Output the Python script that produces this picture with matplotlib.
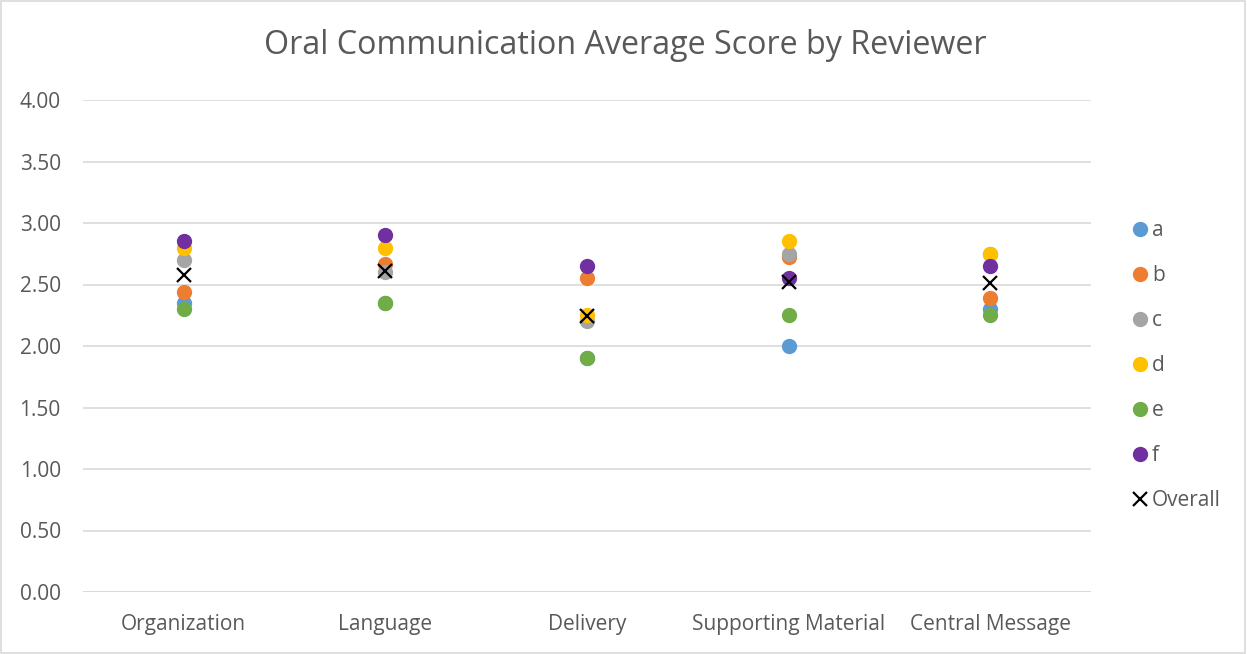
import matplotlib.pyplot as plt
from matplotlib.lines import Line2D
import numpy as np

plt.rcParams['font.family'] = ['Open Sans', 'DejaVu Sans']

categories = ['Organization', 'Language', 'Delivery', 'Supporting Material', 'Central Message']
a = [2.35, 2.35, 1.90, 2.00, 2.30]
b = [2.44, 2.67, 2.55, 2.72, 2.39]
c = [2.70, 2.60, 2.20, 2.75, 2.75]
d = [2.80, 2.80, 2.25, 2.85, 2.75]
e = [2.30, 2.35, 1.90, 2.25, 2.25]
f = [2.85, 2.90, 2.65, 2.55, 2.65]
overall = [2.58, 2.61, 2.24, 2.52, 2.51]

series = [('a', a, '#5B9BD5'), ('b', b, '#ED7D31'), ('c', c, '#A5A5A5'),
          ('d', d, '#FFC000'), ('e', e, '#70AD47'), ('f', f, '#7030A0')]

txt = '#595959'
fig = plt.figure(figsize=(12.47, 6.54), dpi=100)
ax = fig.add_axes([83 / 1247, 1 - 592 / 654, 1008 / 1247, 492 / 654])

x = np.arange(len(categories))
handles = []
for name, vals, col in series:
    ax.plot(x, vals, linestyle='none', marker='o', markersize=10,
            color=col, label=name)
    handles.append(Line2D([], [], linestyle='none', marker='o', markersize=10,
                          color=col, label=name))
ax.plot(x, overall, linestyle='none', marker='x', markersize=10,
        markeredgewidth=1.6, color='black', label='Overall')
handles.append(Line2D([], [], linestyle='none', marker='x', markersize=10,
                      markeredgewidth=1.6, color='black', label='Overall'))

ax.set_xlim(-0.5, 4.5)
ax.set_ylim(0, 4)
ax.set_yticks(np.arange(0, 4.01, 0.5))
ax.set_yticklabels([f'{v:.2f}' for v in np.arange(0, 4.01, 0.5)])
ax.set_xticks(x)
ax.set_xticklabels(categories)
ax.tick_params(length=0, labelsize=15, colors=txt)
ax.tick_params(axis='x', pad=16)
ax.tick_params(axis='y', pad=16)
ax.grid(axis='y', color='#D9D9D9', linewidth=1.2)
ax.set_axisbelow(True)
for s in ax.spines.values():
    s.set_visible(False)
ax.axhline(0, color='#D9D9D9', linewidth=1.2, zorder=0)

fig.text(625 / 1247, 1 - 46 / 654, 'Oral Communication Average Score by Reviewer',
         ha='center', va='center', fontsize=23.2, color=txt)

leg = fig.legend(handles=handles, loc='upper left', bbox_to_anchor=(1125 / 1247, 1 - 212 / 654),
                 frameon=False, fontsize=15, labelcolor=txt, handlelength=0.6,
                 handletextpad=0.3, labelspacing=1.15, borderaxespad=0)

fig.patches.append(plt.Rectangle((0.001, 0.001), 0.997, 0.997, transform=fig.transFigure,
                                 fill=False, edgecolor='#D9D9D9', linewidth=1.2))

fig.savefig('out.png', dpi=100)
